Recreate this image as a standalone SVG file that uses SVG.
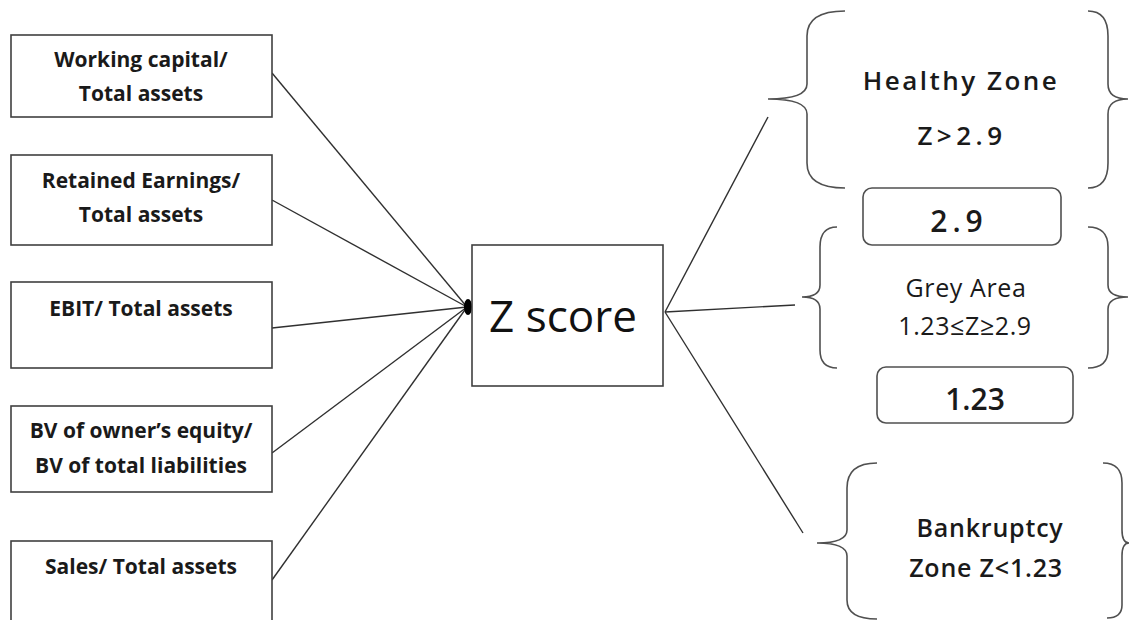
<svg xmlns="http://www.w3.org/2000/svg" width="1129" height="620" viewBox="0 0 1129 620">
<style>
.box{fill:#fff;stroke:#404040;stroke-width:1.6}
.rbox{fill:#fff;stroke:#505050;stroke-width:1.6}
.lt{font-family:"Open Sans","Liberation Sans",sans-serif;font-weight:bold;font-size:21px;fill:#1a1a1a;text-anchor:middle}
.zt{font-family:"Open Sans","Liberation Sans",sans-serif;fill:#1a1a1a;text-anchor:middle}
.hz{font-size:26px;font-weight:600;letter-spacing:2.5px}
.num{font-size:30px;font-weight:600}
.gz{font-size:25px;letter-spacing:0.6px}
.bz{font-size:25px;font-weight:600;letter-spacing:0.8px}
.brace{fill:none;stroke:#505050;stroke-width:1.6}
.conn{stroke:#303030;stroke-width:1.4;fill:none}
</style>
<rect width="1129" height="620" fill="#fff"/>
<g id="connectors">
<line class="conn" x1="272" y1="73" x2="467" y2="307"/>
<line class="conn" x1="272" y1="200" x2="467" y2="307"/>
<line class="conn" x1="272" y1="328" x2="467" y2="307"/>
<line class="conn" x1="272" y1="453" x2="467" y2="307"/>
<line class="conn" x1="272" y1="580" x2="467" y2="307"/>
<ellipse cx="468" cy="307" rx="4" ry="8" fill="#000"/>
<line class="conn" x1="665" y1="312" x2="768" y2="117"/>
<line class="conn" x1="665" y1="312" x2="795" y2="305"/>
<line class="conn" x1="665" y1="312" x2="803" y2="533"/>
</g>
<g id="n1"><rect class="box" x="11" y="35" width="261" height="82"/>
<text class="lt" x="141" y="67">Working capital/</text><text class="lt" x="141" y="101">Total assets</text></g>
<g id="n2"><rect class="box" x="11" y="155" width="261" height="90"/>
<text class="lt" x="141" y="188">Retained Earnings/</text><text class="lt" x="141" y="222">Total assets</text></g>
<g id="n3"><rect class="box" x="11" y="282" width="261" height="86"/>
<text class="lt" x="141" y="316">EBIT/ Total assets</text></g>
<g id="n4"><rect class="box" x="11" y="406" width="261" height="86"/>
<text class="lt" x="141" y="438">BV of owner’s equity/</text><text class="lt" x="141" y="473">BV of total liabilities</text></g>
<g id="n5"><rect class="box" x="11" y="541" width="261" height="90"/>
<text class="lt" x="141" y="574">Sales/ Total assets</text></g>
<g id="zscore"><rect class="box" x="472" y="245" width="191" height="141"/>
<text x="563" y="332" font-family="Open Sans, Liberation Sans, sans-serif" font-size="44" fill="#111" text-anchor="middle">Z score</text></g>
<g id="healthy">
<path class="brace" d="M845,11 Q807,11 807,36 L807,84 Q807,99 768,99 Q807,99 807,114 L807,163 Q807,188 845,188"/>
<path class="brace" d="M1088,11 Q1108,11 1108,36 L1108,84 Q1108,99 1128,99 Q1108,99 1108,114 L1108,163 Q1108,188 1088,188"/>
<text class="zt hz" x="961" y="90">Healthy Zone</text>
<text class="zt hz" x="962" y="145" style="letter-spacing:4.5px">Z&gt;2.9</text>
</g>
<g id="b29"><rect class="rbox" x="863" y="188" width="198" height="57" rx="9"/>
<text class="zt num" x="959" y="232" style="letter-spacing:5px">2.9</text></g>
<g id="grey">
<path class="brace" d="M837,227 Q820,227 820,247 L820,285 Q820,297 802,297 Q820,297 820,309 L820,350 Q820,368 837,368"/>
<path class="brace" d="M1088,227 Q1108,227 1108,247 L1108,285 Q1108,297 1128,297 Q1108,297 1108,309 L1108,350 Q1108,368 1088,368"/>
<text class="zt gz" x="966" y="297">Grey Area</text>
<text class="zt gz" x="965" y="335">1.23≤Z≥2.9</text>
</g>
<g id="b123"><rect class="rbox" x="877" y="367" width="196" height="56" rx="9"/>
<text class="zt num" x="975" y="410">1.23</text></g>
<g id="bankruptcy">
<path class="brace" d="M877,463 Q847,463 847,488 L847,530 Q847,543 817,543 Q847,543 847,556 L847,600 Q847,619 877,619"/>
<path class="brace" d="M1103,463 Q1122,463 1122,483 L1122,530 Q1122,543 1129,543 Q1122,543 1122,556 L1122,605 Q1122,618 1107,618"/>
<text class="zt bz" x="990" y="537">Bankruptcy</text>
<text class="zt bz" x="986" y="577">Zone Z&lt;1.23</text>
</g>
</svg>
